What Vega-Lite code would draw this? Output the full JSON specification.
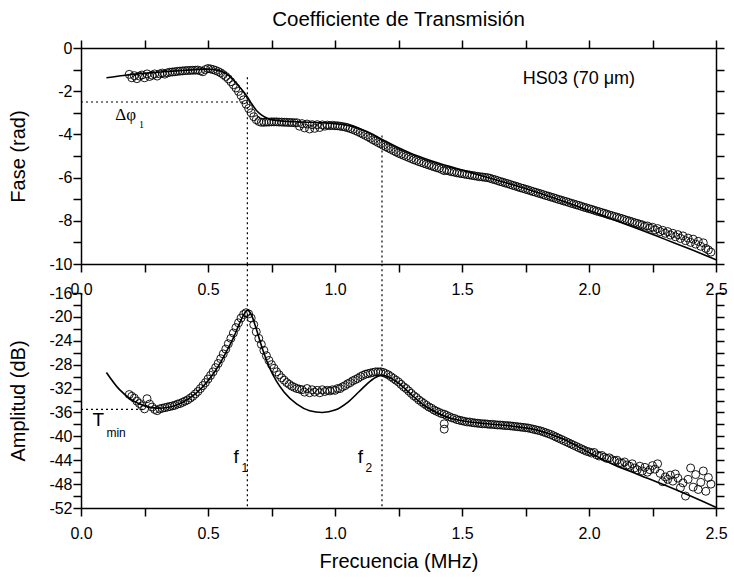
{
"$schema": "https://vega.github.io/schema/vega-lite/v6.json",
"background": "white",
"padding": {"left": 8, "top": 9, "right": 8, "bottom": 5},
"bounds": "flush",
"spacing": 29,
"config": {
  "view": {"stroke": null},
  "axis": {"domainColor": "black", "domainWidth": 1.5, "tickColor": "black", "tickWidth": 1.5, "labelFont": "Liberation Sans", "labelFontSize": 16, "labelColor": "black", "titleFont": "Liberation Sans", "titleFontSize": 20, "titleFontWeight": "normal", "titleColor": "black", "grid": false, "labelFlush": false, "labelOverlap": false, "tickSize": 8}
},
"datasets": {
  "obs": [
{"f":0.19,"p":-1.22,"a":-33.0},{"f":0.20,"p":-1.38,"a":-33.3},{"f":0.21,"p":-1.28,"a":-33.6},{"f":0.22,"p":-1.42,"a":-34.1},{"f":0.23,"p":-1.30,"a":-34.5},{"f":0.24,"p":-1.25,"a":-34.9},{"f":0.25,"p":-1.38,"a":-35.4},{"f":0.26,"p":-1.20,"a":-33.7},{"f":0.27,"p":-1.32,"a":-34.6},{"f":0.28,"p":-1.26,"a":-35.1},{"f":0.29,"p":-1.20,"a":-35.5},
{"f":0.30,"p":-1.30,"a":-35.7},{"f":0.31,"p":-1.20,"a":-35.4},{"f":0.32,"p":-1.16,"a":-35.3},{"f":0.33,"p":-1.21,"a":-35.2},{"f":0.34,"p":-1.15,"a":-35.1},{"f":0.35,"p":-1.12,"a":-35.0},{"f":0.36,"p":-1.11,"a":-34.9},{"f":0.37,"p":-1.10,"a":-34.8},{"f":0.38,"p":-1.08,"a":-34.6},{"f":0.39,"p":-1.07,"a":-34.5},
{"f":0.40,"p":-1.06,"a":-34.3},{"f":0.41,"p":-1.05,"a":-34.1},{"f":0.42,"p":-1.04,"a":-33.9},{"f":0.43,"p":-1.04,"a":-33.6},{"f":0.44,"p":-1.03,"a":-33.3},{"f":0.45,"p":-1.03,"a":-32.9},{"f":0.46,"p":-1.02,"a":-32.5},{"f":0.47,"p":-1.06,"a":-32.0},{"f":0.48,"p":-1.10,"a":-31.5},{"f":0.49,"p":-1.00,"a":-31.0},
{"f":0.50,"p":-0.95,"a":-30.4},{"f":0.51,"p":-0.97,"a":-29.8},{"f":0.52,"p":-1.00,"a":-29.2},{"f":0.53,"p":-1.04,"a":-28.5},{"f":0.54,"p":-1.09,"a":-27.8},{"f":0.55,"p":-1.15,"a":-27.0},{"f":0.56,"p":-1.23,"a":-26.2},{"f":0.57,"p":-1.32,"a":-25.4},{"f":0.58,"p":-1.43,"a":-24.5},{"f":0.59,"p":-1.56,"a":-23.6},
{"f":0.60,"p":-1.70,"a":-22.7},{"f":0.61,"p":-1.85,"a":-21.8},{"f":0.62,"p":-2.01,"a":-21.0},{"f":0.63,"p":-2.20,"a":-20.2},{"f":0.64,"p":-2.40,"a":-19.6},{"f":0.65,"p":-2.60,"a":-19.3},{"f":0.66,"p":-2.80,"a":-19.5},{"f":0.67,"p":-3.00,"a":-20.2},{"f":0.68,"p":-3.18,"a":-21.3},{"f":0.69,"p":-3.32,"a":-22.5},
{"f":0.70,"p":-3.40,"a":-23.6},{"f":0.71,"p":-3.44,"a":-24.6},{"f":0.72,"p":-3.44,"a":-25.6},{"f":0.73,"p":-3.43,"a":-26.5},{"f":0.74,"p":-3.43,"a":-27.3},{"f":0.75,"p":-3.42,"a":-28.0},{"f":0.76,"p":-3.42,"a":-28.6},{"f":0.77,"p":-3.42,"a":-29.2},{"f":0.78,"p":-3.43,"a":-29.7},{"f":0.79,"p":-3.43,"a":-30.2},
{"f":0.80,"p":-3.44,"a":-30.6},{"f":0.81,"p":-3.44,"a":-31.0},{"f":0.82,"p":-3.45,"a":-31.3},{"f":0.83,"p":-3.45,"a":-31.6},{"f":0.84,"p":-3.46,"a":-31.8},{"f":0.85,"p":-3.46,"a":-32.0},{"f":0.86,"p":-3.62,"a":-32.1},{"f":0.87,"p":-3.50,"a":-32.2},{"f":0.88,"p":-3.70,"a":-32.6},{"f":0.89,"p":-3.52,"a":-32.0},
{"f":0.90,"p":-3.75,"a":-32.7},{"f":0.91,"p":-3.55,"a":-32.2},{"f":0.92,"p":-3.72,"a":-32.6},{"f":0.93,"p":-3.55,"a":-32.3},{"f":0.94,"p":-3.68,"a":-32.7},{"f":0.95,"p":-3.56,"a":-32.2},{"f":0.96,"p":-3.62,"a":-32.5},{"f":0.97,"p":-3.57,"a":-32.3},{"f":0.98,"p":-3.60,"a":-32.4},{"f":0.99,"p":-3.58,"a":-32.2},
{"f":1.00,"p":-3.60,"a":-32.3},{"f":1.01,"p":-3.60,"a":-32.0},{"f":1.02,"p":-3.62,"a":-32.0},{"f":1.03,"p":-3.64,"a":-31.7},{"f":1.04,"p":-3.66,"a":-31.5},{"f":1.05,"p":-3.69,"a":-31.2},{"f":1.06,"p":-3.73,"a":-31.0},{"f":1.07,"p":-3.77,"a":-30.7},{"f":1.08,"p":-3.82,"a":-30.5},{"f":1.09,"p":-3.87,"a":-30.3},
{"f":1.10,"p":-3.93,"a":-30.0},{"f":1.11,"p":-3.99,"a":-29.8},{"f":1.12,"p":-4.05,"a":-29.6},{"f":1.13,"p":-4.11,"a":-29.5},{"f":1.14,"p":-4.18,"a":-29.4},{"f":1.15,"p":-4.25,"a":-29.3},{"f":1.16,"p":-4.31,"a":-29.2},{"f":1.17,"p":-4.38,"a":-29.2},{"f":1.18,"p":-4.44,"a":-29.2},{"f":1.19,"p":-4.51,"a":-29.3},
{"f":1.20,"p":-4.57,"a":-29.5},{"f":1.21,"p":-4.63,"a":-29.7},{"f":1.22,"p":-4.69,"a":-30.0},{"f":1.23,"p":-4.75,"a":-30.3},{"f":1.24,"p":-4.81,"a":-30.6},{"f":1.25,"p":-4.87,"a":-30.9},{"f":1.26,"p":-4.92,"a":-31.3},{"f":1.27,"p":-4.97,"a":-31.7},{"f":1.28,"p":-5.02,"a":-32.0},{"f":1.29,"p":-5.07,"a":-32.4},
{"f":1.30,"p":-5.12,"a":-32.8},{"f":1.31,"p":-5.17,"a":-33.2},{"f":1.32,"p":-5.21,"a":-33.5},{"f":1.33,"p":-5.26,"a":-33.9},{"f":1.34,"p":-5.30,"a":-34.2},{"f":1.35,"p":-5.34,"a":-34.5},{"f":1.36,"p":-5.38,"a":-34.8},{"f":1.37,"p":-5.42,"a":-35.1},{"f":1.38,"p":-5.46,"a":-35.3},{"f":1.39,"p":-5.50,"a":-35.6},
{"f":1.40,"p":-5.54,"a":-35.8},{"f":1.41,"p":-5.57,"a":-36.0},{"f":1.42,"p":-5.62,"a":-36.2},{"f":1.43,"p":-5.68,"a":-36.3},{"f":1.44,"p":-5.66,"a":-36.5},{"f":1.45,"p":-5.70,"a":-36.7},{"f":1.46,"p":-5.73,"a":-36.9},{"f":1.47,"p":-5.75,"a":-37.0},{"f":1.48,"p":-5.78,"a":-37.2},{"f":1.49,"p":-5.80,"a":-37.3},
{"f":1.50,"p":-5.82,"a":-37.4},{"f":1.51,"p":-5.84,"a":-37.5},{"f":1.52,"p":-5.86,"a":-37.6},{"f":1.53,"p":-5.88,"a":-37.6},{"f":1.54,"p":-5.90,"a":-37.7},{"f":1.55,"p":-5.92,"a":-37.75},{"f":1.56,"p":-5.94,"a":-37.8},{"f":1.57,"p":-5.96,"a":-37.85},{"f":1.58,"p":-5.97,"a":-37.9},{"f":1.59,"p":-5.99,"a":-37.9},
{"f":1.60,"p":-6.00,"a":-37.95},{"f":1.61,"p":-6.03,"a":-38.0},{"f":1.62,"p":-6.07,"a":-38.0},{"f":1.63,"p":-6.10,"a":-38.05},{"f":1.64,"p":-6.14,"a":-38.1},{"f":1.65,"p":-6.18,"a":-38.1},{"f":1.66,"p":-6.21,"a":-38.15},{"f":1.67,"p":-6.25,"a":-38.2},{"f":1.68,"p":-6.28,"a":-38.2},{"f":1.69,"p":-6.32,"a":-38.25},
{"f":1.70,"p":-6.36,"a":-38.3},{"f":1.71,"p":-6.39,"a":-38.35},{"f":1.72,"p":-6.43,"a":-38.4},{"f":1.73,"p":-6.47,"a":-38.45},{"f":1.74,"p":-6.50,"a":-38.5},{"f":1.75,"p":-6.54,"a":-38.55},{"f":1.76,"p":-6.57,"a":-38.6},{"f":1.77,"p":-6.61,"a":-38.7},{"f":1.78,"p":-6.65,"a":-38.8},{"f":1.79,"p":-6.68,"a":-38.9},
{"f":1.80,"p":-6.72,"a":-39.0},{"f":1.81,"p":-6.75,"a":-39.1},{"f":1.82,"p":-6.79,"a":-39.25},{"f":1.83,"p":-6.83,"a":-39.4},{"f":1.84,"p":-6.86,"a":-39.55},{"f":1.85,"p":-6.90,"a":-39.7},{"f":1.86,"p":-6.93,"a":-39.9},{"f":1.87,"p":-6.97,"a":-40.1},{"f":1.88,"p":-7.01,"a":-40.3},{"f":1.89,"p":-7.04,"a":-40.5},
{"f":1.90,"p":-7.08,"a":-40.7},{"f":1.91,"p":-7.11,"a":-40.9},{"f":1.92,"p":-7.15,"a":-41.1},{"f":1.93,"p":-7.19,"a":-41.3},{"f":1.94,"p":-7.22,"a":-41.5},{"f":1.95,"p":-7.26,"a":-41.7},{"f":1.96,"p":-7.29,"a":-41.9},{"f":1.97,"p":-7.33,"a":-42.1},{"f":1.98,"p":-7.37,"a":-42.3},{"f":1.99,"p":-7.40,"a":-42.5},
{"f":2.00,"p":-7.44,"a":-42.6},{"f":2.01,"p":-7.47,"a":-42.8},{"f":2.02,"p":-7.51,"a":-42.7},{"f":2.03,"p":-7.55,"a":-43.1},{"f":2.04,"p":-7.58,"a":-43.3},{"f":2.05,"p":-7.62,"a":-43.2},{"f":2.06,"p":-7.65,"a":-43.5},{"f":2.07,"p":-7.69,"a":-43.7},{"f":2.08,"p":-7.73,"a":-43.6},{"f":2.09,"p":-7.76,"a":-43.9},
{"f":2.10,"p":-7.80,"a":-44.1},{"f":2.11,"p":-7.83,"a":-44.0},{"f":2.12,"p":-7.87,"a":-44.4},{"f":2.13,"p":-7.90,"a":-44.5},{"f":2.14,"p":-7.94,"a":-44.3},{"f":2.15,"p":-7.98,"a":-44.8},{"f":2.16,"p":-8.01,"a":-45.0},{"f":2.17,"p":-8.05,"a":-44.6},{"f":2.18,"p":-8.09,"a":-45.3},{"f":2.19,"p":-8.12,"a":-45.6},
{"f":2.20,"p":-8.16,"a":-45.0},{"f":2.21,"p":-8.19,"a":-45.8},{"f":2.22,"p":-8.25,"a":-45.2},{"f":2.23,"p":-8.24,"a":-46.0},{"f":2.24,"p":-8.33,"a":-45.6},{"f":2.25,"p":-8.30,"a":-44.9},{"f":2.26,"p":-8.42,"a":-45.5},{"f":2.27,"p":-8.36,"a":-44.6},{"f":2.28,"p":-8.50,"a":-46.2},{"f":2.29,"p":-8.44,"a":-47.6},
{"f":2.30,"p":-8.58,"a":-46.8},{"f":2.31,"p":-8.50,"a":-47.2},{"f":2.32,"p":-8.66,"a":-46.5},{"f":2.33,"p":-8.58,"a":-47.5},{"f":2.34,"p":-8.74,"a":-46.3},{"f":2.35,"p":-8.64,"a":-47.0},{"f":2.36,"p":-8.82,"a":-48.6},{"f":2.37,"p":-8.70,"a":-47.8},{"f":2.38,"p":-8.92,"a":-50.0},{"f":2.39,"p":-8.80,"a":-47.2},
{"f":2.40,"p":-9.00,"a":-45.3},{"f":2.41,"p":-8.85,"a":-48.5},{"f":2.42,"p":-9.08,"a":-46.4},{"f":2.43,"p":-8.95,"a":-48.9},{"f":2.44,"p":-9.18,"a":-47.7},{"f":2.45,"p":-9.02,"a":-45.8},{"f":2.46,"p":-9.28,"a":-49.2},{"f":2.47,"p":-9.35,"a":-46.9},{"f":2.48,"p":-9.45,"a":-48.0},
{"f":1.43,"a":-37.9},{"f":1.43,"a":-38.8}
  ],
  "fit": [
{"f":0.10,"pf":-1.38,"af":-29.3},{"f":0.15,"pf":-1.30,"af":-32.1},{"f":0.20,"pf":-1.22,"af":-33.9},{"f":0.25,"pf":-1.17,"af":-34.9},{"f":0.30,"pf":-1.12,"af":-35.3},{"f":0.35,"pf":-1.08,"af":-35.1},{"f":0.40,"pf":-1.04,"af":-34.3},{"f":0.45,"pf":-1.00,"af":-32.9},{"f":0.50,"pf":-0.98,"af":-30.7},{"f":0.55,"pf":-1.07,"af":-27.6},{"f":0.58,"pf":-1.26,"af":-25.2},{"f":0.60,"pf":-1.48,"af":-23.5},{"f":0.62,"pf":-1.75,"af":-21.5},{"f":0.64,"pf":-2.03,"af":-19.7},{"f":0.655,"pf":-2.27,"af":-18.9},{"f":0.67,"pf":-2.55,"af":-19.6},{"f":0.69,"pf":-2.88,"af":-22.0},{"f":0.71,"pf":-3.1,"af":-24.8},{"f":0.74,"pf":-3.29,"af":-28.3},{"f":0.77,"pf":-3.36,"af":-30.8},{"f":0.80,"pf":-3.39,"af":-32.6},{"f":0.85,"pf":-3.42,"af":-34.6},{"f":0.90,"pf":-3.44,"af":-35.7},{"f":0.95,"pf":-3.46,"af":-36.0},{"f":1.00,"pf":-3.50,"af":-35.6},{"f":1.05,"pf":-3.58,"af":-34.3},{"f":1.10,"pf":-3.75,"af":-32.3},{"f":1.15,"pf":-4.00,"af":-30.4},{"f":1.18,"pf":-4.20,"af":-29.8},{"f":1.20,"pf":-4.32,"af":-29.9},{"f":1.25,"pf":-4.62,"af":-31.1},{"f":1.30,"pf":-4.88,"af":-33.0},{"f":1.35,"pf":-5.10,"af":-34.8},{"f":1.40,"pf":-5.30,"af":-36.0},{"f":1.45,"pf":-5.48,"af":-36.9},{"f":1.50,"pf":-5.65,"af":-37.4},{"f":1.60,"pf":-6.00,"af":-37.9},{"f":1.70,"pf":-6.33,"af":-38.3},{"f":1.80,"pf":-6.70,"af":-39.0},{"f":1.90,"pf":-7.10,"af":-40.5},{"f":2.00,"pf":-7.52,"af":-42.7},{"f":2.10,"pf":-7.96,"af":-44.8},{"f":2.20,"pf":-8.40,"af":-46.5},{"f":2.30,"pf":-8.86,"af":-48.2},{"f":2.40,"pf":-9.32,"af":-50.0},{"f":2.50,"pf":-9.80,"af":-51.9}
  ]
},
"vconcat": [
{
  "width": 635, "height": 216,
  "title": {"text": "Coefficiente de Transmisión", "font": "Liberation Sans", "fontSize": 20.5, "fontWeight": "normal", "color": "black", "anchor": "middle", "frame": "group", "offset": 9},
  "resolve": {"axis": {"x": "independent", "y": "independent"}},
  "layer": [
    {
      "data": {"name": "obs"},
      "mark": {"type": "point", "shape": "circle", "filled": false, "stroke": "black", "strokeWidth": 0.9, "size": 64, "opacity": 1},
      "encoding": {
        "x": {"field": "f", "type": "quantitative", "scale": {"domain": [0, 2.5], "nice": false, "zero": false},
              "axis": {"orient": "bottom", "title": null, "values": [0,0.25,0.5,0.75,1,1.25,1.5,1.75,2,2.25,2.5], "labelExpr": "(datum.value*4)%2===0 ? format(datum.value,'.1f') : ''", "labelPadding": 9, "encode": {"ticks": {"update": {"y2": {"signal": "(datum.value*4)%2===0 ? 8 : 5"}}}}}},
        "y": {"field": "p", "type": "quantitative", "scale": {"domain": [-10, 0], "nice": false, "zero": false},
              "axis": {"orient": "left", "title": "Fase (rad)", "titlePadding": 20, "values": [-10,-9,-8,-7,-6,-5,-4,-3,-2,-1,0], "labelExpr": "datum.value%2===0 ? toString(datum.value) : ''", "labelPadding": 1, "encode": {"ticks": {"update": {"x2": {"signal": "datum.value%2===0 ? -8 : -5"}}}}}}
      }
    },
    {
      "data": {"name": "fit"},
      "mark": {"type": "line", "color": "black", "strokeWidth": 1.6, "interpolate": "monotone"},
      "encoding": {
        "x": {"field": "f", "type": "quantitative",
              "axis": {"orient": "top", "title": null, "labels": false, "values": [0,0.25,0.5,0.75,1,1.25,1.5,1.75,2,2.25,2.5], "encode": {"ticks": {"update": {"y2": {"signal": "(datum.value*4)%2===0 ? 8 : 5"}}}}}},
        "y": {"field": "pf", "type": "quantitative",
              "axis": {"orient": "right", "title": null, "labels": false, "values": [-10,-9,-8,-7,-6,-5,-4,-3,-2,-1,0], "encode": {"ticks": {"update": {"x2": {"signal": "datum.value%2===0 ? -8 : -5"}}}}}}
      }
    },
    {
      "data": {"values": [{"f": 0.655, "y1": -1.35, "y2": -10}, {"f": 1.185, "y1": -4.05, "y2": -10}]},
      "mark": {"type": "rule", "color": "black", "strokeWidth": 1.2, "strokeDash": [2, 3]},
      "encoding": {"x": {"field": "f", "type": "quantitative", "axis": null}, "y": {"field": "y1", "type": "quantitative", "axis": null}, "y2": {"field": "y2"}}
    },
    {
      "data": {"values": [{"x1": 0, "x2": 0.655, "y": -2.5}]},
      "mark": {"type": "rule", "color": "black", "strokeWidth": 1.2, "strokeDash": [2, 3]},
      "encoding": {"x": {"field": "x1", "type": "quantitative", "axis": null}, "x2": {"field": "x2"}, "y": {"field": "y", "type": "quantitative", "axis": null}}
    },
    {
      "data": {"values": [{"f": 1.96, "y": -1.45, "t": "HS03 (70 μm)"}]},
      "mark": {"type": "text", "font": "Liberation Sans", "fontSize": 18, "color": "black", "align": "center", "baseline": "middle"},
      "encoding": {"x": {"field": "f", "type": "quantitative", "axis": null}, "y": {"field": "y", "type": "quantitative", "axis": null}, "text": {"field": "t"}}
    },
    {
      "data": {"values": [{"f": 0.135, "y": -3.1, "t": "Δφ"}]},
      "mark": {"type": "text", "font": "Liberation Serif", "fontSize": 17, "color": "black", "align": "left", "baseline": "middle"},
      "encoding": {"x": {"field": "f", "type": "quantitative", "axis": null}, "y": {"field": "y", "type": "quantitative", "axis": null}, "text": {"field": "t"}}
    },
    {
      "data": {"values": [{"f": 0.228, "y": -3.55, "t": "1"}]},
      "mark": {"type": "text", "font": "Liberation Serif", "fontSize": 10, "color": "black", "align": "left", "baseline": "middle"},
      "encoding": {"x": {"field": "f", "type": "quantitative", "axis": null}, "y": {"field": "y", "type": "quantitative", "axis": null}, "text": {"field": "t"}}
    }
  ]
},
{
  "width": 635, "height": 215,
  "resolve": {"axis": {"x": "independent", "y": "independent"}},
  "layer": [
    {
      "data": {"name": "obs"},
      "mark": {"type": "point", "shape": "circle", "filled": false, "stroke": "black", "strokeWidth": 0.9, "size": 64, "opacity": 1},
      "encoding": {
        "x": {"field": "f", "type": "quantitative", "scale": {"domain": [0, 2.5], "nice": false, "zero": false},
              "axis": {"orient": "bottom", "title": "Frecuencia (MHz)", "titlePadding": 10, "values": [0,0.25,0.5,0.75,1,1.25,1.5,1.75,2,2.25,2.5], "labelExpr": "(datum.value*4)%2===0 ? format(datum.value,'.1f') : ''", "labelPadding": 9, "encode": {"ticks": {"update": {"y2": {"signal": "(datum.value*4)%2===0 ? 8 : 5"}}}}}},
        "y": {"field": "a", "type": "quantitative", "scale": {"domain": [-52, -16], "nice": false, "zero": false},
              "axis": {"orient": "left", "title": "Amplitud (dB)", "titlePadding": 20, "values": [-52,-50,-48,-46,-44,-42,-40,-38,-36,-34,-32,-30,-28,-26,-24,-22,-20,-18,-16], "labelExpr": "datum.value%4===0 ? toString(datum.value) : ''", "labelPadding": 1, "encode": {"ticks": {"update": {"x2": {"signal": "datum.value%4===0 ? -8 : -5"}}}}}}
      }
    },
    {
      "data": {"name": "fit"},
      "mark": {"type": "line", "color": "black", "strokeWidth": 1.6, "interpolate": "monotone"},
      "encoding": {
        "x": {"field": "f", "type": "quantitative", "axis": null},
        "y": {"field": "af", "type": "quantitative",
              "axis": {"orient": "right", "title": null, "labels": false, "values": [-52,-50,-48,-46,-44,-42,-40,-38,-36,-34,-32,-30,-28,-26,-24,-22,-20,-18,-16], "encode": {"ticks": {"update": {"x2": {"signal": "datum.value%4===0 ? -8 : -5"}}}}}}
      }
    },
    {
      "data": {"values": [{"f": 0.655, "y1": -11.2, "y2": -52}, {"f": 1.185, "y1": -11.2, "y2": -52}]},
      "mark": {"type": "rule", "color": "black", "strokeWidth": 1.2, "strokeDash": [2, 3]},
      "encoding": {"x": {"field": "f", "type": "quantitative", "axis": null}, "y": {"field": "y1", "type": "quantitative", "axis": null}, "y2": {"field": "y2"}}
    },
    {
      "data": {"values": [{"x1": 0, "x2": 0.245, "y": -35.5}]},
      "mark": {"type": "rule", "color": "black", "strokeWidth": 1.2, "strokeDash": [2, 3]},
      "encoding": {"x": {"field": "x1", "type": "quantitative", "axis": null}, "x2": {"field": "x2"}, "y": {"field": "y", "type": "quantitative", "axis": null}}
    },
    {
      "data": {"values": [{"f": 0.045, "y": -37.3, "t": "T"}, {"f": 0.6, "y": -43.4, "t": "f"}, {"f": 1.09, "y": -43.4, "t": "f"}]},
      "mark": {"type": "text", "font": "Liberation Sans", "fontSize": 19, "color": "black", "align": "left", "baseline": "middle"},
      "encoding": {"x": {"field": "f", "type": "quantitative", "axis": null}, "y": {"field": "y", "type": "quantitative", "axis": null}, "text": {"field": "t"}}
    },
    {
      "data": {"values": [{"f": 0.1, "y": -39.4, "t": "min"}, {"f": 0.632, "y": -45.3, "t": "1"}, {"f": 1.12, "y": -45.3, "t": "2"}]},
      "mark": {"type": "text", "font": "Liberation Sans", "fontSize": 12, "color": "black", "align": "left", "baseline": "middle"},
      "encoding": {"x": {"field": "f", "type": "quantitative", "axis": null}, "y": {"field": "y", "type": "quantitative", "axis": null}, "text": {"field": "t"}}
    }
  ]
}
]
}
